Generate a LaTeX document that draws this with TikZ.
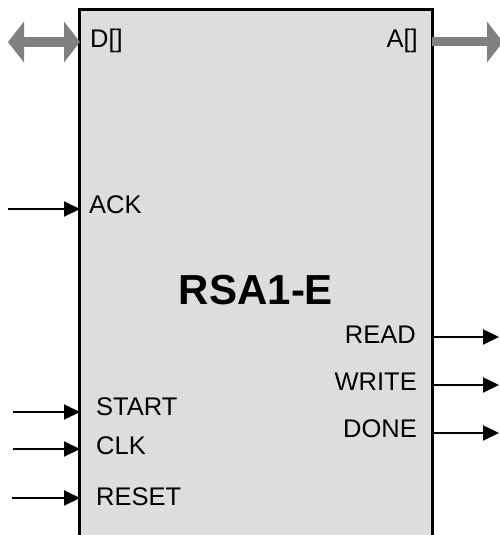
\documentclass[tikz,border=0pt]{standalone}
\usepackage{fontspec}
\setmainfont{Liberation Sans}
\usetikzlibrary{arrows.meta}
\definecolor{boxfill}{HTML}{DDDDDD}
\definecolor{busgray}{HTML}{808080}
\tikzset{
  blockbox/.style={draw=black, line width=3pt, fill=boxfill},
  sig/.style={draw=black, line width=2pt, -{Triangle[length=16pt,width=15pt]}},
  bus/.style={draw=busgray, line width=9pt, -{Triangle[length=16pt,width=40pt]}},
  bibus/.style={draw=busgray, line width=10pt, {Triangle[length=16pt,width=40pt]}-{Triangle[length=16pt,width=40pt]}},
  lbl/.style={inner sep=0pt, font=\fontsize{25.5}{30}\selectfont},
  title/.style={inner sep=0pt, font=\fontsize{42}{48}\selectfont\bfseries}
}
\begin{document}
\begin{tikzpicture}[x=1pt,y=-1pt]
\useasboundingbox (0,0) rectangle (500,535);
\clip (0,0) rectangle (500,535);
\draw[blockbox] (79,9.5) rectangle (432,560);
% buses
\coordinate (din) at (8,42);
\coordinate (dbox) at (80,42);
\draw[bibus] (din) -- (dbox);
\coordinate (aout) at (432,42);
\coordinate (aend) at (503,42);
\draw[bus] (aout) -- (aend);
\node[lbl, anchor=base west] (dl) at (90,48) {D[]};
\node[lbl, anchor=base east] (al) at (418,48) {A[]};
% inputs
\coordinate (ackin) at (8,209);
\coordinate (ackbox) at (80,209);
\draw[sig] (ackin) -- (ackbox);
\node[lbl, anchor=base west] (ack) at (89,213) {ACK};
\coordinate (startin) at (13,412);
\coordinate (startbox) at (80,412);
\draw[sig] (startin) -- (startbox);
\node[lbl, anchor=base west] (start) at (96,415) {START};
\coordinate (clkin) at (13,449);
\coordinate (clkbox) at (80,449);
\draw[sig] (clkin) -- (clkbox);
\node[lbl, anchor=base west] (clk) at (96,454) {CLK};
\coordinate (rstin) at (12,498);
\coordinate (rstbox) at (80,498);
\draw[sig] (rstin) -- (rstbox);
\node[lbl, anchor=base west] (rst) at (96,505) {RESET};
% outputs
\coordinate (readbox) at (432,337);
\coordinate (readout) at (499,337);
\draw[sig] (readbox) -- (readout);
\node[lbl, anchor=base east] (read) at (416,343) {READ};
\coordinate (writebox) at (432,385);
\coordinate (writeout) at (499,385);
\draw[sig] (writebox) -- (writeout);
\node[lbl, anchor=base east] (write) at (417,390) {WRITE};
\coordinate (donebox) at (432,433);
\coordinate (doneout) at (499,433);
\draw[sig] (donebox) -- (doneout);
\node[lbl, anchor=base east] (done) at (417,437) {DONE};
% title
\node[title, anchor=base] (name) at (256,304) {RSA1-E};
\end{tikzpicture}
\end{document}
